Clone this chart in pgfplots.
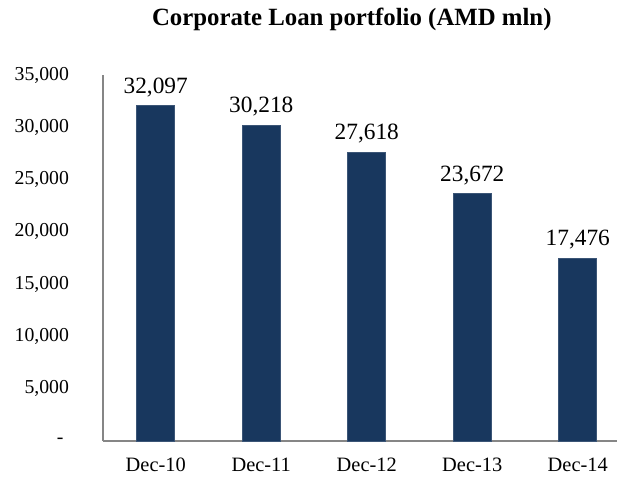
\documentclass[border=0pt]{standalone}
\usepackage{fontspec}
\setmainfont{Liberation Serif}
\usepackage{pgfplots}
\pgfplotsset{compat=1.18}
\definecolor{barblue}{RGB}{24,55,94}
\definecolor{axgray}{RGB}{134,134,134}
\begin{document}
\begin{tikzpicture}[x=0.75pt,y=0.75pt]
\useasboundingbox (-103,-41) rectangle (515,441);
\begin{axis}[
    at={(0,0)}, anchor=south west,
    scale only axis, width=385.5pt, height=274.5pt,
    ybar, bar width=28.5pt,
    xmin=-0.5, xmax=4.372,
    ymin=0, ymax=35000,
    scaled y ticks=false,
    axis x line*=bottom, axis y line*=left,
    axis line style={axgray, line width=0.9pt},
    x axis line style={-}, y axis line style={-},
    xtick=data, xticklabels={Dec-10,Dec-11,Dec-12,Dec-13,Dec-14},
    ytick={0,5000,10000,15000,20000,25000,30000,35000},
    yticklabels={\makebox[9pt][l]{-},{5,000},{10,000},{15,000},{20,000},{25,000},{30,000},{35,000}},
    major tick length=0pt,
    x tick label style={font=\fontsize{15.3}{18}\selectfont, yshift=-9pt},
    y tick label style={font=\fontsize{14.8}{17}\selectfont, xshift=-22pt},
    nodes near coords,
    nodes near coords style={font=\fontsize{17.5}{20}\selectfont, text=black, yshift=3pt,
      /pgf/number format/.cd, fixed, precision=0, 1000 sep={,}, assume math mode=true},
    title={\textbf{Corporate Loan portfolio (AMD mln)}},
    title style={font=\fontsize{18.6}{22}\selectfont, at={(0.484,1)}, yshift=24pt},
]
\addplot[fill=barblue, draw=barblue!85!white] coordinates
  {(0,32097) (1,30218) (2,27618) (3,23672) (4,17476)};
\end{axis}
\end{tikzpicture}
\end{document}
